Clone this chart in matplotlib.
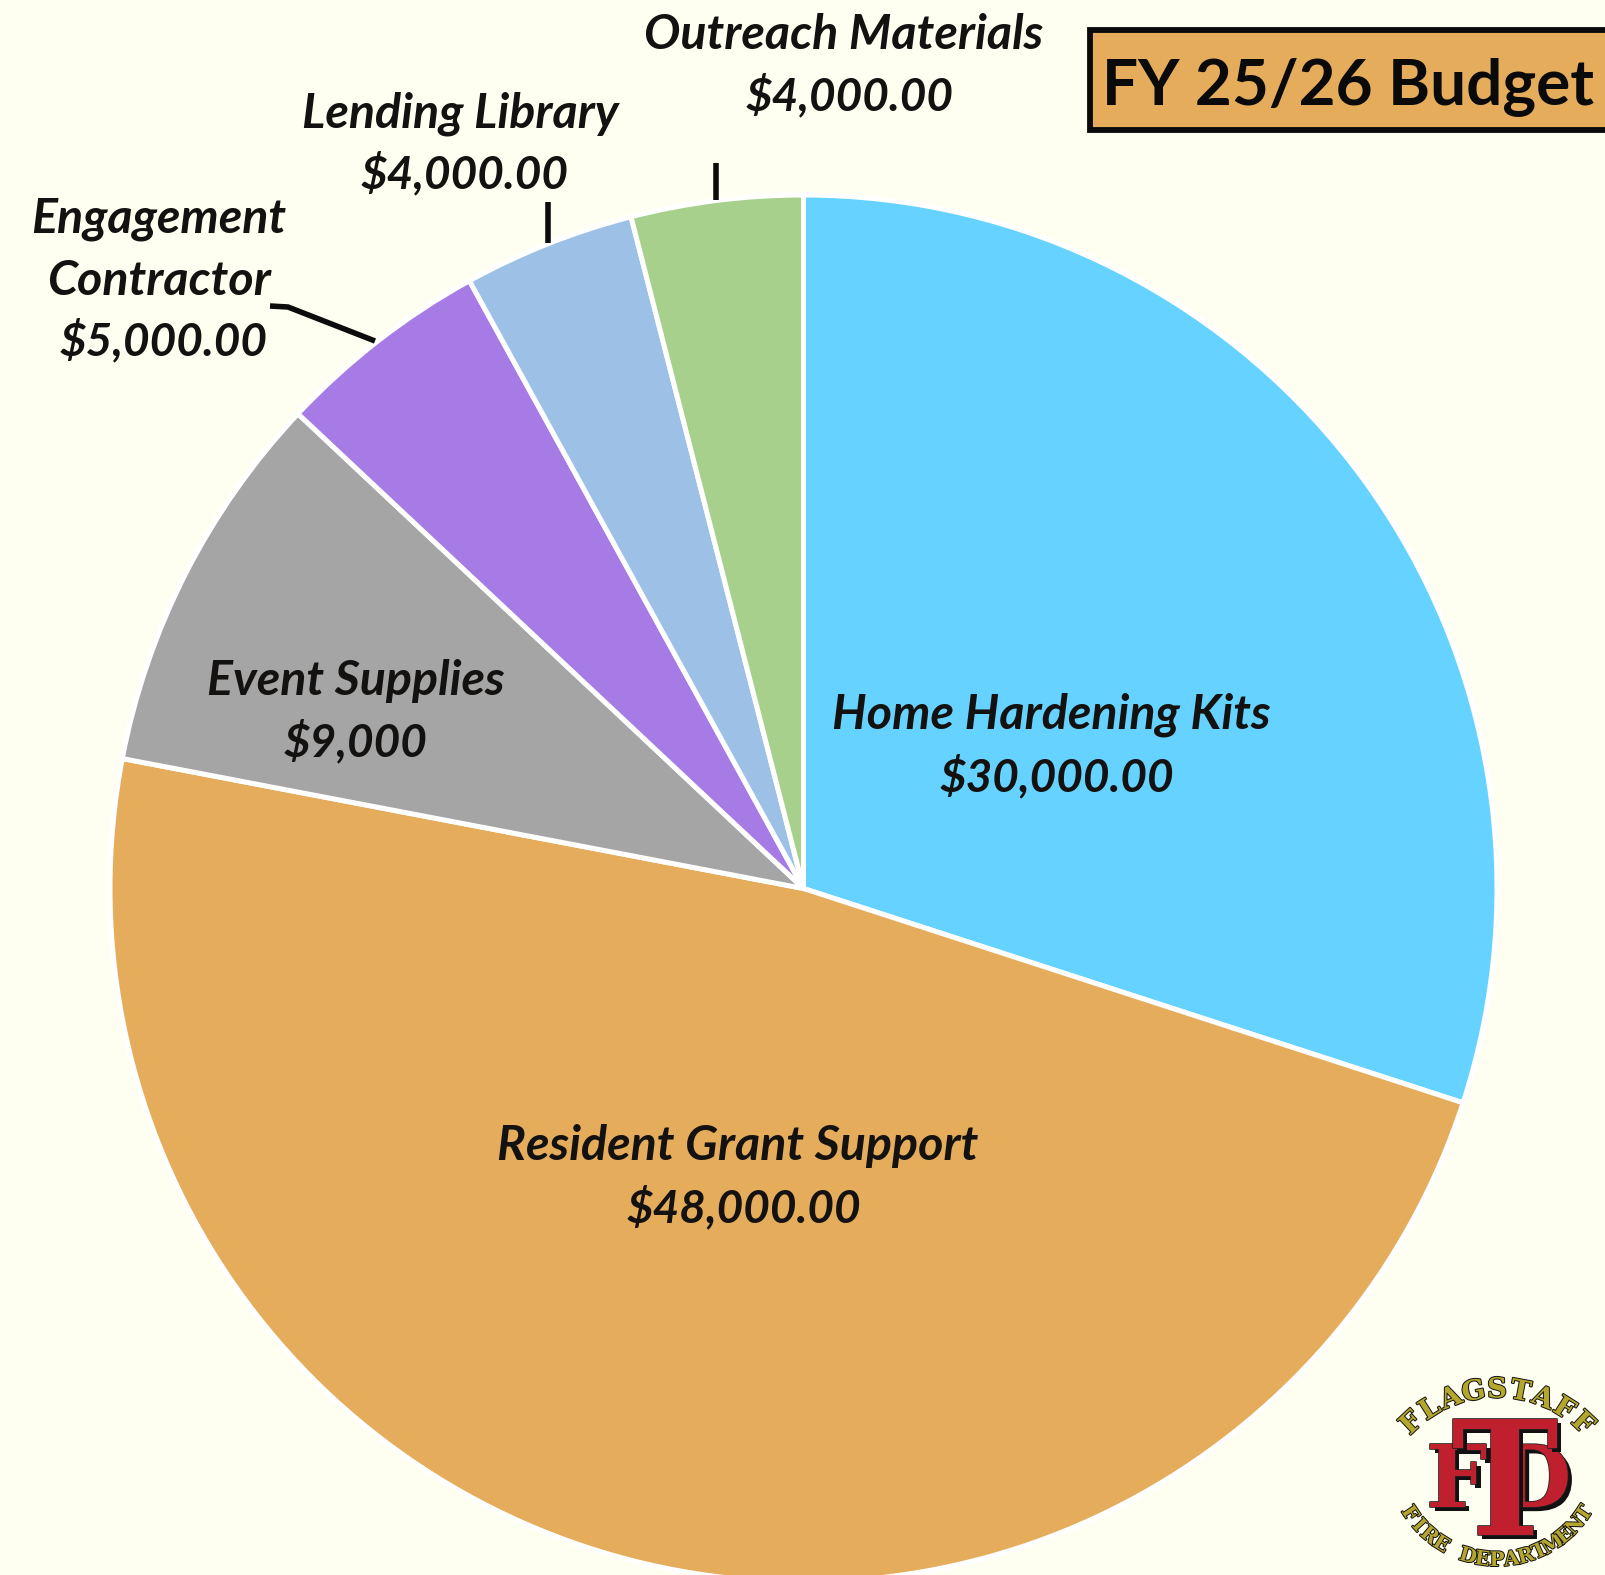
import numpy as np
import matplotlib
matplotlib.use("Agg")
import matplotlib.pyplot as plt
import matplotlib.patheffects as pe
from matplotlib.patches import Rectangle

categories = ["Home Hardening Kits", "Resident Grant Support", "Event Supplies",
              "Engagement\nContractor", "Lending Library", "Outreach Materials"]
values = [30000, 48000, 9000, 5000, 4000, 4000]
value_labels = ["$30,000.00", "$48,000.00", "$9,000", "$5,000.00", "$4,000.00", "$4,000.00"]
colors = ["#66D2FF", "#E5AC5C", "#A5A5A5", "#A67BE6", "#9DC0E6", "#A8D08D"]
title = "FY 25/26 Budget"

W, H = 1605, 1575
BG = "#FFFFF1"
INK = "#141210"
fig = plt.figure(figsize=(W / 100, H / 100), dpi=100, facecolor=BG)
ax = fig.add_axes([0, 0, 1, 1])
ax.set_facecolor(BG)


def Y(py):
    return H - py


ax.pie(values, startangle=90, counterclock=False, colors=colors,
       center=(803.5, Y(888.5)), radius=693.5, frame=True,
       wedgeprops=dict(edgecolor="white", linewidth=3.6))
ax.set_xlim(0, W)
ax.set_ylim(0, H)
ax.axis("off")

FONT = dict(family="Lato", fontweight="bold", fontstyle="italic", color=INK,
            ha="center", va="center")

# (x, y) label centres in reference pixels, one line per entry
label_pos = [
    [(1051, 715), (1057, 777)],
    [(738, 1146), (744, 1208)],
    [(356, 681), (356, 742)],
    [(159, 219), (159, 281), (164, 341)],
    [(460, 114), (465, 174)],
    [(844, 35), (850, 96)],
]
for cat, val, pos in zip(categories, value_labels, label_pos):
    name_lines = cat.split("\n")
    for line, (x, y) in zip(name_lines, pos):
        ax.text(x, Y(y), line, fontsize=34.8, **FONT)
    x, y = pos[-1]
    ax.text(x, Y(y), val, fontsize=33, **FONT)

# leader lines
for xs, ys in [((270, 288, 375), (306, 307, 341)),
               ((548, 548), (202, 243)),
               ((716, 716), (163, 200))]:
    ax.plot(xs, [Y(v) for v in ys], color="#0c0c0c", lw=4, solid_capstyle="butt")

# title box
ax.add_patch(Rectangle((1089.5, Y(129.5)), 530, 100, facecolor="#E5AC5C",
                       edgecolor="#0a0a0a", lw=4.2, clip_on=True))
ax.text(1348, Y(87), title, family="Lato", fontweight="bold", fontsize=46,
        color="#0a0a0a", ha="center", va="center")

# logo
OLIVE = "#B5A62E"
RED = "#C0202E"


def arc_text(text, cx, cy, r, a0, a1, size, flip):
    angs = np.linspace(a0, a1, len(text))
    for ch, a in zip(text, angs):
        t = np.deg2rad(a)
        x = cx + r * np.sin(t)
        y = cy - r * np.cos(t) if not flip else cy + r * np.cos(t)
        rot = -a if not flip else a
        ax.text(x, Y(y), ch, family="DejaVu Serif", fontweight="bold",
                fontsize=size, color=OLIVE, ha="center", va="center", rotation=rot,
                rotation_mode="anchor",
                path_effects=[pe.withStroke(linewidth=1.4, foreground="#111111")])


arc_text("FLAGSTAFF", 1497, 1515, 125, -43, 43, 20, False)
arc_text("FIRE DEPARTMENT", 1497, 1455, 105, -56, 56, 14.5, True)

shadow = [pe.withSimplePatchShadow(offset=(3, -3), shadow_rgbFace="#111111", alpha=1),
          pe.Stroke(linewidth=1.2, foreground="#222222"), pe.Normal()]
for ch, x, y, size, stretch in [("F", 1457, 1507, 62, "normal"),
                                ("D", 1534, 1507, 62, "normal"),
                                ("T", 1505, 1535, 115, "condensed")]:
    ax.text(x, Y(y), ch, family="DejaVu Serif", fontweight="bold", fontsize=size,
            fontstretch=stretch, color=RED, ha="center", va="baseline",
            path_effects=shadow)

fig.savefig("out.png", dpi=100, facecolor=BG)
